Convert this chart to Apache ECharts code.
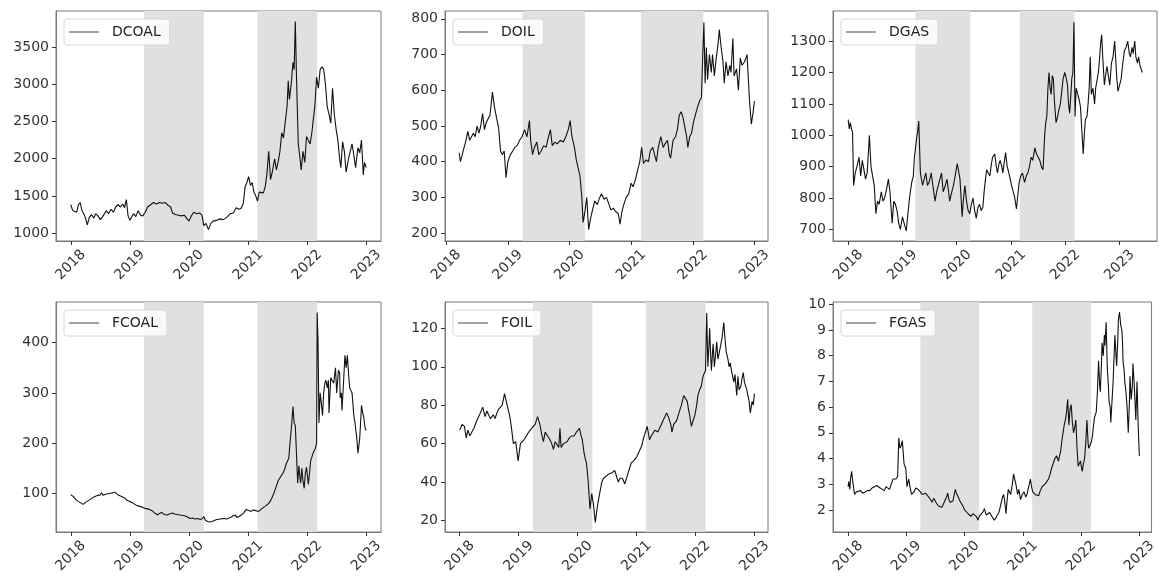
<!DOCTYPE html>
<html>
<head>
<meta charset="utf-8">
<title>Energy prices</title>
<script src="https://cdn.jsdelivr.net/npm/echarts@6/dist/echarts.min.js"></script>
<style>
  html, body { margin: 0; padding: 0; background: #fff; }
  #chart { width: 1159px; height: 577px; }
</style>
</head>
<body>
<div id="chart"></div>
<script>
// series names
const names = ['DCOAL', 'DOIL', 'DGAS', 'FCOAL', 'FOIL', 'FGAS'];

// [decimal year, price]
const dcoal = [[2018.00,1380],[2018.02,1330],[2018.04,1300],[2018.07,1320],[2018.10,1280],[2018.13,1380],[2018.16,1410],[2018.19,1300],[2018.22,1260],[2018.25,1200],[2018.28,1110],[2018.31,1200],[2018.35,1250],[2018.39,1200],[2018.42,1260],[2018.46,1230],[2018.50,1180],[2018.54,1220],[2018.60,1300],[2018.64,1260],[2018.68,1320],[2018.72,1280],[2018.76,1350],[2018.80,1380],[2018.84,1350],[2018.88,1390],[2018.91,1340],[2018.94,1450],[2018.97,1230],[2019.00,1170],[2019.04,1230],[2019.07,1260],[2019.10,1220],[2019.14,1300],[2019.18,1240],[2019.22,1230],[2019.26,1280],[2019.30,1350],[2019.35,1380],[2019.40,1410],[2019.45,1390],[2019.50,1410],[2019.55,1400],[2019.60,1410],[2019.65,1370],[2019.69,1350],[2019.72,1270],[2019.77,1250],[2019.82,1240],[2019.87,1230],[2019.92,1240],[2019.96,1200],[2020.00,1160],[2020.04,1230],[2020.08,1280],[2020.13,1260],[2020.18,1270],[2020.22,1240],[2020.25,1100],[2020.29,1130],[2020.33,1045],[2020.37,1130],[2020.41,1160],[2020.47,1170],[2020.53,1190],[2020.58,1180],[2020.64,1210],[2020.70,1260],[2020.75,1270],[2020.80,1340],[2020.84,1320],[2020.88,1330],[2020.92,1400],[2020.95,1620],[2020.98,1680],[2021.01,1760],[2021.04,1640],[2021.07,1680],[2021.10,1550],[2021.13,1500],[2021.16,1430],[2021.19,1550],[2021.22,1570],[2021.26,1540],[2021.29,1620],[2021.32,1800],[2021.35,2100],[2021.38,1720],[2021.41,1820],[2021.45,2000],[2021.48,1850],[2021.51,1960],[2021.54,2100],[2021.57,2350],[2021.60,2280],[2021.63,2500],[2021.66,2700],[2021.68,3050],[2021.70,2800],[2021.73,3000],[2021.76,3300],[2021.78,3200],[2021.80,3850],[2021.82,3100],[2021.85,2200],[2021.88,2000],[2021.90,1850],[2021.93,2100],[2021.96,1950],[2021.99,2300],[2022.02,2250],[2022.05,2200],[2022.08,2350],[2022.10,2500],[2022.13,2700],[2022.16,3100],[2022.19,2950],[2022.22,3200],[2022.25,3240],[2022.28,3200],[2022.31,3000],[2022.34,2700],[2022.37,2600],[2022.40,2480],[2022.43,2950],[2022.46,2600],[2022.49,2400],[2022.52,2250],[2022.55,2000],[2022.57,1880],[2022.60,2230],[2022.63,2100],[2022.66,1820],[2022.70,2000],[2022.73,2100],[2022.76,2200],[2022.79,2050],[2022.82,1880],[2022.86,2150],[2022.89,2080],[2022.92,2250],[2022.95,1780],[2022.97,1950],[2023.00,1880]];

const doil = [[2018.21,425],[2018.23,400],[2018.26,420],[2018.29,440],[2018.32,460],[2018.35,485],[2018.38,460],[2018.41,465],[2018.44,480],[2018.47,470],[2018.50,500],[2018.53,480],[2018.56,500],[2018.59,535],[2018.62,490],[2018.65,510],[2018.68,520],[2018.71,530],[2018.75,595],[2018.78,555],[2018.82,520],[2018.85,495],[2018.88,430],[2018.91,420],[2018.94,430],[2018.97,355],[2019.00,400],[2019.04,420],[2019.08,430],[2019.11,440],[2019.15,445],[2019.19,460],[2019.23,470],[2019.27,490],[2019.31,470],[2019.35,515],[2019.37,460],[2019.40,420],[2019.43,440],[2019.47,455],[2019.50,420],[2019.54,430],[2019.58,445],[2019.62,440],[2019.66,470],[2019.69,490],[2019.72,445],[2019.76,455],[2019.80,450],[2019.85,460],[2019.90,455],[2019.94,470],[2019.98,490],[2020.01,515],[2020.04,470],[2020.08,440],[2020.11,405],[2020.14,410],[2020.17,360],[2020.20,300],[2020.22,230],[2020.25,260],[2020.28,300],[2020.31,210],[2020.34,240],[2020.38,270],[2020.41,290],[2020.45,280],[2020.49,300],[2020.52,310],[2020.56,295],[2020.60,300],[2020.63,305],[2020.67,265],[2020.71,270],[2020.75,260],[2020.79,255],[2020.82,225],[2020.85,260],[2020.88,280],[2020.92,300],[2020.96,310],[2021.00,340],[2021.03,330],[2021.07,350],[2021.11,380],[2021.14,400],[2021.17,440],[2021.20,395],[2021.24,405],[2021.28,400],[2021.31,430],[2021.35,440],[2021.38,420],[2021.41,400],[2021.44,440],[2021.48,470],[2021.52,440],[2021.55,450],[2021.59,460],[2021.62,420],[2021.64,410],[2021.68,460],[2021.72,470],[2021.75,490],[2021.78,530],[2021.81,540],[2021.84,525],[2021.87,520],[2021.90,470],[2021.92,440],[2021.95,470],[2021.98,480],[2022.01,510],[2022.04,530],[2022.08,555],[2022.11,570],[2022.14,580],[2022.16,690],[2022.18,790],[2022.20,620],[2022.22,720],[2022.24,630],[2022.27,700],[2022.30,650],[2022.32,700],[2022.35,640],[2022.38,690],[2022.41,730],[2022.43,770],[2022.46,720],[2022.49,680],[2022.51,620],[2022.54,680],[2022.57,640],[2022.60,670],[2022.62,650],[2022.65,745],[2022.67,640],[2022.71,660],[2022.74,600],[2022.77,690],[2022.80,670],[2022.84,680],[2022.88,700],[2022.92,570],[2022.95,505],[2022.98,540],[2023.00,570]];

const dgas = [[2018.00,1050],[2018.02,1020],[2018.04,1040],[2018.06,1020],[2018.08,1010],[2018.10,840],[2018.13,880],[2018.16,900],[2018.20,930],[2018.23,870],[2018.26,920],[2018.29,925],[2018.32,860],[2018.35,880],[2018.39,1000],[2018.42,900],[2018.45,870],[2018.48,840],[2018.51,750],[2018.54,790],[2018.57,780],[2018.61,820],[2018.64,790],[2018.67,800],[2018.71,830],[2018.74,860],[2018.77,820],[2018.81,720],[2018.84,790],[2018.87,780],[2018.90,760],[2018.93,720],[2018.96,700],[2019.00,740],[2019.03,720],[2019.07,695],[2019.10,750],[2019.13,800],[2019.17,850],[2019.20,870],[2019.22,930],[2019.26,990],[2019.28,1010],[2019.30,1045],[2019.33,880],[2019.37,840],[2019.40,860],[2019.43,880],[2019.46,840],[2019.49,850],[2019.53,880],[2019.56,840],[2019.60,790],[2019.63,820],[2019.66,840],[2019.69,860],[2019.72,880],[2019.75,820],[2019.79,840],[2019.82,860],[2019.85,820],[2019.87,790],[2019.91,820],[2019.94,840],[2019.97,870],[2020.01,910],[2020.04,880],[2020.06,860],[2020.10,740],[2020.12,790],[2020.15,840],[2020.18,790],[2020.21,760],[2020.24,750],[2020.27,780],[2020.30,800],[2020.33,760],[2020.36,735],[2020.39,770],[2020.42,780],[2020.45,760],[2020.48,770],[2020.51,830],[2020.55,890],[2020.58,880],[2020.61,870],[2020.64,910],[2020.66,930],[2020.70,940],[2020.73,900],[2020.75,880],[2020.78,910],[2020.80,920],[2020.83,900],[2020.85,880],[2020.88,920],[2020.90,945],[2020.93,900],[2020.96,880],[2021.01,840],[2021.04,820],[2021.07,800],[2021.10,765],[2021.12,800],[2021.15,850],[2021.18,870],[2021.21,880],[2021.25,850],[2021.28,870],[2021.31,880],[2021.34,900],[2021.37,930],[2021.40,920],[2021.44,960],[2021.47,940],[2021.50,940],[2021.53,920],[2021.56,900],[2021.59,890],[2021.62,1000],[2021.64,1040],[2021.66,1060],[2021.68,1150],[2021.70,1200],[2021.72,1150],[2021.74,1130],[2021.76,1190],[2021.78,1180],[2021.80,1110],[2021.83,1040],[2021.86,1060],[2021.88,1080],[2021.91,1100],[2021.94,1100],[2021.96,1180],[2021.99,1200],[2022.02,1180],[2022.04,1160],[2022.06,1100],[2022.08,1070],[2022.10,1120],[2022.12,1180],[2022.14,1200],[2022.16,1360],[2022.18,1060],[2022.20,1150],[2022.23,1130],[2022.26,1110],[2022.28,1090],[2022.31,1000],[2022.33,940],[2022.35,1000],[2022.37,1050],[2022.40,1060],[2022.42,1100],[2022.44,1150],[2022.46,1250],[2022.48,1130],[2022.51,1150],[2022.54,1100],[2022.56,1150],[2022.58,1150],[2022.61,1200],[2022.63,1240],[2022.65,1290],[2022.67,1320],[2022.69,1250],[2022.72,1160],[2022.75,1200],[2022.77,1220],[2022.80,1180],[2022.82,1160],[2022.85,1230],[2022.88,1250],[2022.91,1300],[2022.93,1240],[2022.95,1180],[2022.97,1140],[2023.00,1160],[2023.03,1180],[2023.06,1230],[2023.09,1270],[2023.12,1280],[2023.15,1300],[2023.18,1260],[2023.20,1250],[2023.23,1280],[2023.25,1260],[2023.28,1300],[2023.30,1250],[2023.33,1230],[2023.35,1250],[2023.38,1220],[2023.40,1210],[2023.42,1200]];

const fcoal = [[2018.00,97],[2018.04,94],[2018.07,90],[2018.10,86],[2018.13,83],[2018.17,81],[2018.21,78],[2018.25,82],[2018.29,85],[2018.33,88],[2018.38,92],[2018.42,94],[2018.46,96],[2018.50,97],[2018.52,101],[2018.55,96],[2018.59,98],[2018.63,99],[2018.67,100],[2018.71,101],[2018.75,102],[2018.78,101],[2018.81,96],[2018.85,94],[2018.88,92],[2018.92,90],[2018.95,86],[2018.99,84],[2019.03,82],[2019.06,80],[2019.10,77],[2019.14,75],[2019.17,73],[2019.22,72],[2019.26,70],[2019.29,70],[2019.33,68],[2019.37,66],[2019.41,62],[2019.46,57],[2019.50,60],[2019.54,62],[2019.58,58],[2019.63,57],[2019.67,59],[2019.72,61],[2019.76,59],[2019.80,58],[2019.85,57],[2019.91,56],[2019.96,54],[2020.02,50],[2020.06,51],[2020.10,49],[2020.15,50],[2020.19,48],[2020.23,50],[2020.25,54],[2020.28,46],[2020.32,44],[2020.36,43],[2020.41,45],[2020.47,48],[2020.53,49],[2020.59,50],[2020.64,49],[2020.70,52],[2020.74,55],[2020.78,57],[2020.81,52],[2020.85,54],[2020.92,60],[2020.97,68],[2021.01,66],[2021.05,64],[2021.09,67],[2021.12,67],[2021.18,64],[2021.22,68],[2021.26,72],[2021.30,75],[2021.35,80],[2021.38,85],[2021.40,90],[2021.43,98],[2021.46,108],[2021.49,118],[2021.51,125],[2021.55,133],[2021.59,140],[2021.62,148],[2021.65,160],[2021.67,165],[2021.69,170],[2021.71,200],[2021.74,240],[2021.76,273],[2021.78,240],[2021.80,235],[2021.82,232],[2021.84,120],[2021.86,155],[2021.88,130],[2021.89,120],[2021.91,150],[2021.93,125],[2021.95,110],[2021.97,140],[2021.99,152],[2022.02,118],[2022.04,140],[2022.06,165],[2022.08,172],[2022.10,180],[2022.12,185],[2022.14,190],[2022.16,200],[2022.17,460],[2022.185,400],[2022.20,240],[2022.22,300],[2022.24,280],[2022.26,255],[2022.28,300],[2022.30,320],[2022.32,325],[2022.34,310],[2022.36,325],[2022.37,260],[2022.40,330],[2022.42,325],[2022.45,320],[2022.48,350],[2022.50,300],[2022.53,345],[2022.55,340],[2022.56,290],[2022.58,300],[2022.59,265],[2022.62,330],[2022.64,375],[2022.66,350],[2022.68,375],[2022.70,340],[2022.72,310],[2022.74,305],[2022.76,300],[2022.79,255],[2022.81,240],[2022.84,210],[2022.86,180],[2022.89,210],[2022.92,275],[2022.94,260],[2022.96,250],[2022.98,230],[2023.00,225]];

const foil = [[2018.00,67],[2018.04,70],[2018.08,69],[2018.11,63],[2018.14,67],[2018.17,64],[2018.20,65],[2018.24,68],[2018.29,72],[2018.32,74],[2018.35,76],[2018.39,79],[2018.43,74],[2018.46,77],[2018.49,78],[2018.52,73],[2018.54,72],[2018.57,75],[2018.60,73],[2018.63,76],[2018.66,78],[2018.69,79],[2018.72,80],[2018.76,86],[2018.79,82],[2018.82,78],[2018.85,74],[2018.87,70],[2018.91,60],[2018.95,61],[2018.99,51],[2019.03,60],[2019.06,61],[2019.09,62],[2019.13,64],[2019.17,66],[2019.22,68],[2019.25,68],[2019.28,70],[2019.32,74],[2019.36,70],[2019.39,65],[2019.42,61],[2019.45,66],[2019.48,65],[2019.53,62],[2019.56,60],[2019.59,57],[2019.62,61],[2019.65,62],[2019.68,58],[2019.70,68],[2019.72,58],[2019.76,60],[2019.82,61],[2019.86,63],[2019.90,64],[2019.94,64],[2019.98,66],[2020.03,68],[2020.06,64],[2020.08,62],[2020.11,55],[2020.13,52],[2020.15,50],[2020.18,40],[2020.21,26],[2020.24,34],[2020.27,28],[2020.30,19],[2020.33,26],[2020.35,30],[2020.38,35],[2020.41,40],[2020.44,42],[2020.48,43],[2020.52,44],[2020.55,44],[2020.59,45],[2020.63,46],[2020.66,43],[2020.69,40],[2020.72,42],[2020.76,42],[2020.80,39],[2020.83,42],[2020.86,45],[2020.91,50],[2020.95,51],[2021.00,53],[2021.03,55],[2021.06,56],[2021.09,59],[2021.11,62],[2021.15,66],[2021.18,69],[2021.22,62],[2021.25,64],[2021.28,65],[2021.31,67],[2021.33,68],[2021.36,66],[2021.39,67],[2021.42,70],[2021.45,72],[2021.48,74],[2021.51,76],[2021.54,74],[2021.56,72],[2021.58,70],[2021.60,66],[2021.63,70],[2021.65,70],[2021.68,72],[2021.70,74],[2021.73,77],[2021.76,80],[2021.80,85],[2021.83,84],[2021.86,82],[2021.88,78],[2021.90,75],[2021.93,69],[2021.96,72],[2021.99,75],[2022.02,80],[2022.04,85],[2022.07,88],[2022.10,90],[2022.12,94],[2022.14,96],[2022.17,98],[2022.19,128],[2022.21,100],[2022.23,112],[2022.24,120],[2022.26,104],[2022.27,98],[2022.29,108],[2022.30,112],[2022.32,100],[2022.34,106],[2022.36,113],[2022.38,104],[2022.40,105],[2022.42,110],[2022.45,115],[2022.48,123],[2022.50,115],[2022.52,108],[2022.55,104],[2022.57,100],[2022.59,102],[2022.61,98],[2022.63,95],[2022.65,92],[2022.67,96],[2022.70,85],[2022.72,95],[2022.74,88],[2022.77,90],[2022.79,94],[2022.81,97],[2022.83,92],[2022.85,93],[2022.87,88],[2022.89,85],[2022.91,82],[2022.93,76],[2022.96,82],[2022.98,80],[2023.00,86]];

const fgas = [[2018.00,2.9],[2018.01,3.1],[2018.03,2.8],[2018.04,3.2],[2018.06,3.5],[2018.08,3.1],[2018.11,2.6],[2018.14,2.7],[2018.17,2.7],[2018.21,2.75],[2018.25,2.65],[2018.29,2.7],[2018.33,2.75],[2018.37,2.75],[2018.41,2.85],[2018.45,2.9],[2018.49,2.95],[2018.51,2.95],[2018.55,2.85],[2018.58,2.8],[2018.62,2.75],[2018.65,2.9],[2018.68,2.95],[2018.71,2.8],[2018.73,2.75],[2018.77,3.2],[2018.80,3.25],[2018.82,3.2],[2018.85,3.3],[2018.87,4.8],[2018.89,4.4],[2018.91,4.5],[2018.93,4.7],[2018.96,3.8],[2018.99,3.6],[2019.01,2.9],[2019.04,3.2],[2019.07,2.8],[2019.09,2.6],[2019.13,2.7],[2019.16,2.85],[2019.20,2.8],[2019.24,2.7],[2019.27,2.6],[2019.30,2.55],[2019.33,2.65],[2019.35,2.6],[2019.40,2.45],[2019.44,2.3],[2019.47,2.45],[2019.49,2.4],[2019.52,2.25],[2019.55,2.15],[2019.58,2.1],[2019.61,2.1],[2019.64,2.25],[2019.66,2.3],[2019.69,2.5],[2019.71,2.65],[2019.73,2.4],[2019.75,2.3],[2019.78,2.3],[2019.80,2.35],[2019.84,2.8],[2019.86,2.65],[2019.89,2.5],[2019.92,2.35],[2019.94,2.3],[2019.97,2.15],[2020.00,2.0],[2020.03,1.95],[2020.06,1.85],[2020.09,1.8],[2020.11,1.75],[2020.14,1.85],[2020.17,1.9],[2020.20,1.75],[2020.23,1.6],[2020.25,1.75],[2020.28,1.7],[2020.31,1.9],[2020.34,2.05],[2020.37,1.8],[2020.40,1.75],[2020.43,1.9],[2020.45,1.9],[2020.48,1.7],[2020.51,1.6],[2020.54,1.7],[2020.56,1.8],[2020.59,1.9],[2020.62,2.2],[2020.65,2.5],[2020.67,2.6],[2020.69,2.3],[2020.71,1.85],[2020.73,2.4],[2020.75,2.8],[2020.77,2.7],[2020.79,2.6],[2020.82,3.0],[2020.84,3.4],[2020.86,3.2],[2020.88,3.0],[2020.91,2.6],[2020.93,2.8],[2020.96,2.4],[2020.99,2.6],[2021.02,2.7],[2021.05,2.5],[2021.07,2.6],[2021.10,2.9],[2021.13,3.2],[2021.15,2.9],[2021.17,2.7],[2021.21,2.6],[2021.24,2.55],[2021.27,2.55],[2021.30,2.75],[2021.33,2.9],[2021.36,2.95],[2021.38,3.0],[2021.41,3.1],[2021.44,3.2],[2021.47,3.4],[2021.49,3.6],[2021.52,3.8],[2021.55,4.0],[2021.58,4.1],[2021.61,3.9],[2021.63,4.1],[2021.65,4.3],[2021.67,4.7],[2021.69,5.0],[2021.71,5.3],[2021.73,5.5],[2021.75,5.8],[2021.77,6.3],[2021.79,5.3],[2021.81,5.9],[2021.83,6.1],[2021.85,5.4],[2021.87,5.0],[2021.89,5.2],[2021.91,5.5],[2021.93,4.4],[2021.95,3.7],[2021.97,3.8],[2021.99,3.9],[2022.01,3.6],[2022.02,3.5],[2022.04,3.8],[2022.06,4.0],[2022.08,4.6],[2022.10,5.5],[2022.12,4.6],[2022.13,4.4],[2022.15,4.5],[2022.17,4.6],[2022.19,4.8],[2022.21,5.2],[2022.23,5.6],[2022.26,5.8],[2022.28,6.6],[2022.30,7.8],[2022.32,6.8],[2022.33,6.6],[2022.35,7.7],[2022.36,8.5],[2022.38,8.0],[2022.40,8.8],[2022.41,8.4],[2022.43,9.3],[2022.45,7.5],[2022.47,6.8],[2022.48,6.2],[2022.50,6.0],[2022.51,5.4],[2022.53,6.2],[2022.55,7.0],[2022.57,8.2],[2022.58,8.8],[2022.60,8.0],[2022.61,7.6],[2022.63,8.6],[2022.64,9.4],[2022.66,9.7],[2022.68,9.2],[2022.70,9.0],[2022.71,8.6],[2022.72,7.8],[2022.74,7.4],[2022.75,7.0],[2022.77,6.6],[2022.79,6.0],[2022.81,5.0],[2022.83,6.2],[2022.84,7.2],[2022.86,6.3],[2022.88,6.8],[2022.89,7.7],[2022.91,7.0],[2022.92,6.5],[2022.94,5.5],[2022.96,7.0],[2022.98,5.3],[2023.00,4.1]];

// grey shaded periods (decimal years)
const shadeSpans = [[2019.24, 2020.25], [2021.16, 2022.17]];

// tick labels
const yearTicks = [2018, 2019, 2020, 2021, 2022, 2023];
const yTicks = [
  [1000, 1500, 2000, 2500, 3000, 3500],
  [200, 300, 400, 500, 600, 700, 800],
  [700, 800, 900, 1000, 1100, 1200, 1300],
  [100, 200, 300, 400],
  [20, 40, 60, 80, 100, 120],
  [2, 3, 4, 5, 6, 7, 8, 9, 10]
];

// axis extents per panel (matplotlib autoscale incl. margins)
const xRanges = [[2017.75, 2023.25], [2017.98, 2023.22], [2017.72, 2023.69], [2017.75, 2023.25], [2017.75, 2023.23], [2017.74, 2023.21]];
const yRanges = [[892, 3990], [178, 822], [663, 1396], [23, 481], [14, 133.7], [1.14, 10.09]];

const seriesData = [dcoal, doil, dgas, fcoal, foil, fgas];

// panel geometry
const colLeft = [56, 445, 833];
const colWidth = [325, 323, 324];
const rowTop = [11, 302];
const plotH = 230;

const FONT = 'DejaVu Sans';
const frameColor = '#7a7a7a';
const textColor = '#333';

const chart = echarts.init(document.getElementById('chart'));

const grids = [], xAxes = [], yAxes = [], legends = [], series = [];

names.forEach((name, i) => {
  const col = i % 3, row = Math.floor(i / 3);
  const left = colLeft[col], top = rowTop[row];

  grids.push({
    left: left, top: top, width: colWidth[col], height: plotH,
    show: true, borderColor: frameColor, borderWidth: 1, backgroundColor: '#fff'
  });

  xAxes.push({
    type: 'value', gridIndex: i,
    min: xRanges[i][0], max: xRanges[i][1],
    axisLine: { show: true, onZero: false, lineStyle: { color: frameColor } },
    axisTick: { show: true, customValues: yearTicks, length: 4, lineStyle: { color: textColor } },
    axisLabel: {
      customValues: yearTicks, rotate: 45, align: 'center', verticalAlign: 'middle',
      margin: 24, fontSize: 14, fontFamily: FONT, color: textColor,
      formatter: v => String(Math.round(v))
    },
    splitLine: { show: false }
  });

  yAxes.push({
    type: 'value', gridIndex: i,
    min: yRanges[i][0], max: yRanges[i][1],
    axisLine: { show: true, onZero: false, lineStyle: { color: frameColor } },
    axisTick: { show: true, customValues: yTicks[i], length: 4, lineStyle: { color: textColor } },
    axisLabel: {
      customValues: yTicks[i], margin: 7, fontSize: 14, fontFamily: FONT, color: textColor,
      formatter: v => String(v)
    },
    splitLine: { show: false }
  });

  // legend box: short line sample + name, top-left of each panel
  legends.push({
    data: [name], left: left + 8, top: top + 8,
    icon: 'rect', itemWidth: 30, itemHeight: 1,
    padding: [6, 9, 6, 5],
    backgroundColor: 'rgba(255,255,255,0.8)', borderColor: '#d6d6d6', borderWidth: 1, borderRadius: 3,
    selectedMode: false,
    itemStyle: { color: '#444' },
    textStyle: { fontSize: 14, fontFamily: FONT, color: '#222', padding: [0, 0, 0, 8], lineHeight: 14 }
  });

  series.push({
    name: name, type: 'line', xAxisIndex: i, yAxisIndex: i,
    data: seriesData[i], showSymbol: false, symbol: 'none',
    lineStyle: { color: '#111', width: 1.1 }, itemStyle: { color: '#111' },
    markArea: {
      silent: true,
      itemStyle: { color: '#e0e0e0' },
      data: shadeSpans.map(s => [{ xAxis: s[0] }, { xAxis: s[1] }])
    }
  });
});

chart.setOption({
  animation: false,
  backgroundColor: '#fff',
  grid: grids,
  xAxis: xAxes,
  yAxis: yAxes,
  legend: legends,
  series: series
});

window.addEventListener('resize', () => chart.resize());
</script>
</body>
</html>
